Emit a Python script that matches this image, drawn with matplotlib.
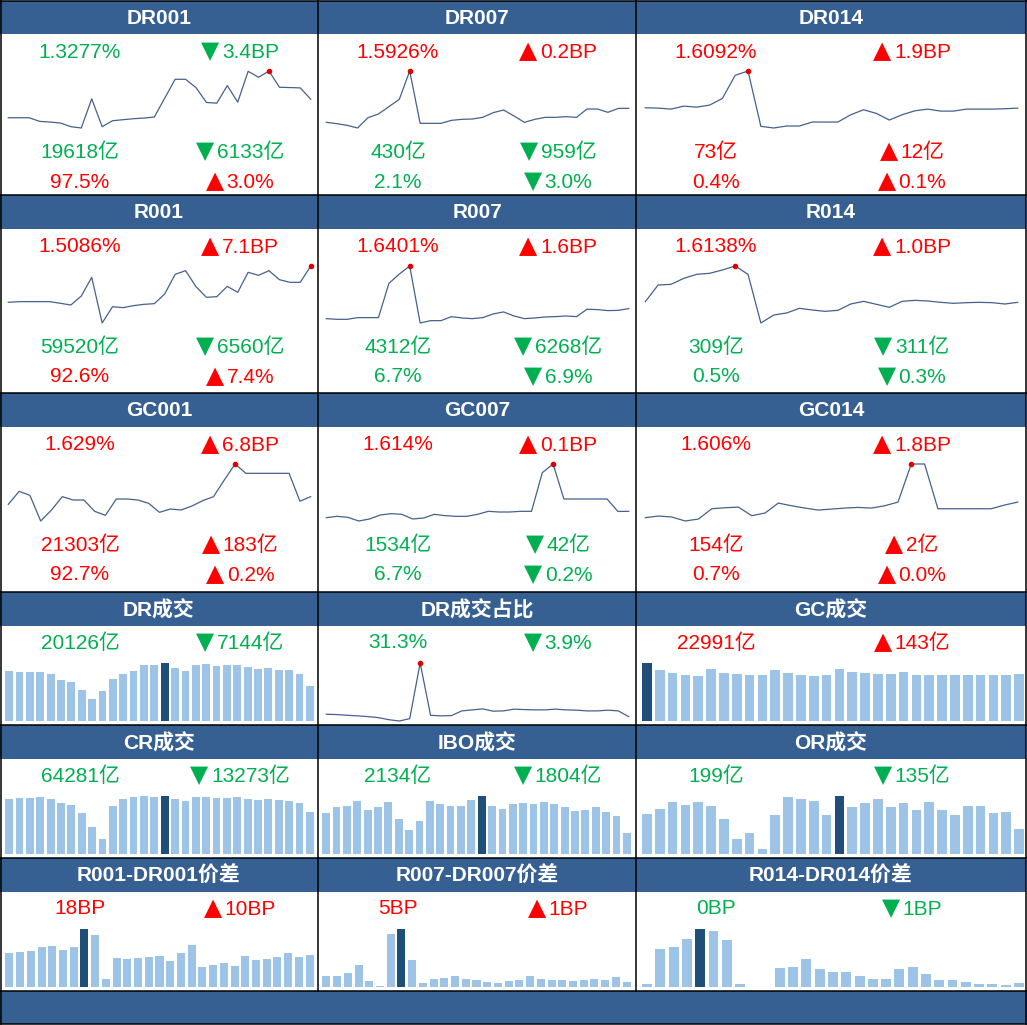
import matplotlib
matplotlib.use("Agg")
import matplotlib.pyplot as plt
from matplotlib.offsetbox import TextArea, HPacker, AnnotationBbox
import numpy as np

plt.rcParams['font.family'] = ['Liberation Sans', 'DejaVu Sans', 'Noto Sans CJK SC']

W, H = 1027, 1025
HEAD = '#376092'
GREEN = '#00B050'
RED = '#FF0000'
LINE = '#44628C'
BAR = '#9DC3E6'
BAR_DARK = '#1F4E79'

# ---- rate panels (rows 1-3) ----
names_rate = ['DR001', 'DR007', 'DR014', 'R001', 'R007', 'R014', 'GC001', 'GC007', 'GC014']
rate_txt = ['1.3277%', '1.5926%', '1.6092%', '1.5086%', '1.6401%', '1.6138%', '1.629%', '1.614%', '1.606%']
rate_chg = ['▼3.4BP', '▲0.2BP', '▲1.9BP', '▲7.1BP', '▲1.6BP', '▲1.0BP', '▲6.8BP', '▲0.1BP', '▲1.8BP']
vol_txt = ['19618亿', '430亿', '73亿', '59520亿', '4312亿', '309亿', '21303亿', '1534亿', '154亿']
vol_chg = ['▼6133亿', '▼959亿', '▲12亿', '▼6560亿', '▼6268亿', '▼311亿', '▲183亿', '▼42亿', '▲2亿']
share_txt = ['97.5%', '2.1%', '0.4%', '92.6%', '6.7%', '0.5%', '92.7%', '6.7%', '0.7%']
share_chg = ['▲3.0%', '▼3.0%', '▲0.1%', '▲7.4%', '▼6.9%', '▼0.3%', '▲0.2%', '▼0.2%', '▲0.0%']

dr001 = [1.2717, 1.2717, 1.2717, 1.2607, 1.2587, 1.2557, 1.2447, 1.2407, 1.3287, 1.2447,
         1.2627, 1.2657, 1.2687, 1.2707, 1.2737, 1.3307, 1.3877, 1.3877, 1.3627, 1.3177,
         1.3157, 1.3687, 1.3187, 1.4117, 1.3937, 1.4127, 1.3637, 1.3627, 1.3617, 1.3277]
dr007 = [1.5506, 1.5466, 1.5416, 1.5336, 1.5646, 1.5756, 1.5976, 1.6196, 1.7046, 1.5476,
         1.5476, 1.5476, 1.5566, 1.5596, 1.5606, 1.5656, 1.5796, 1.5876, 1.5696, 1.5506,
         1.5596, 1.5656, 1.5656, 1.5676, 1.5656, 1.5906, 1.5906, 1.5806, 1.5924, 1.5926]
dr014 = [1.6102, 1.6092, 1.6062, 1.6152, 1.6122, 1.6182, 1.6382, 1.7082, 1.7212, 1.5542,
         1.5492, 1.5552, 1.5552, 1.5672, 1.5672, 1.5672, 1.5892, 1.6042, 1.5932, 1.5732,
         1.5892, 1.6012, 1.6062, 1.6002, 1.6002, 1.6062, 1.6062, 1.6062, 1.6073, 1.6092]
r001 = [1.3506, 1.3535, 1.3535, 1.3535, 1.3535, 1.3462, 1.3389, 1.3781, 1.4593, 1.2606,
        1.3317, 1.3273, 1.3360, 1.3418, 1.3447, 1.3868, 1.4723, 1.4883, 1.4187, 1.3723,
        1.3752, 1.4201, 1.3940, 1.4810, 1.4680, 1.4883, 1.4491, 1.4375, 1.4375, 1.5086]
r007 = [1.5501, 1.5441, 1.5441, 1.5591, 1.5591, 1.5591, 1.8651, 1.9491, 2.0211, 1.5111,
        1.5321, 1.5321, 1.5681, 1.5561, 1.5501, 1.5591, 1.5921, 1.6101, 1.5741, 1.5501,
        1.5561, 1.5651, 1.5681, 1.5741, 1.5681, 1.6341, 1.6311, 1.6221, 1.6241, 1.6401]
r014 = [1.6178, 1.7178, 1.7218, 1.7578, 1.7818, 1.7878, 1.8078, 1.8318, 1.7818, 1.4898,
        1.5378, 1.5498, 1.5778, 1.5678, 1.5598, 1.5658, 1.6038, 1.6198, 1.6018, 1.5838,
        1.6198, 1.6258, 1.6218, 1.6138, 1.6078, 1.6118, 1.6138, 1.6118, 1.6038, 1.6138]
gc001 = [1.514, 1.709, 1.649, 1.264, 1.429, 1.629, 1.579, 1.579, 1.409, 1.349,
         1.594, 1.594, 1.579, 1.529, 1.394, 1.444, 1.429, 1.489, 1.569, 1.629,
         1.879, 2.119, 1.979, 1.979, 1.979, 1.979, 1.979, 1.561, 1.629]
gc007 = [1.557, 1.569, 1.560, 1.527, 1.545, 1.581, 1.593, 1.587, 1.545, 1.554,
         1.587, 1.575, 1.569, 1.569, 1.587, 1.614, 1.608, 1.608, 1.614, 1.614,
         1.962, 2.040, 1.725, 1.725, 1.725, 1.725, 1.725, 1.613, 1.614]
gc014 = [1.512, 1.522, 1.516, 1.492, 1.504, 1.566, 1.572, 1.576, 1.524, 1.540,
         1.600, 1.584, 1.570, 1.558, 1.564, 1.570, 1.574, 1.570, 1.584, 1.606,
         1.836, 1.836, 1.566, 1.566, 1.566, 1.566, 1.566, 1.588, 1.606]
rate_series = [dr001, dr007, dr014, r001, r007, r014, gc001, gc007, gc014]

# ---- volume / spread panels (rows 4-6) ----
names_vol = ['DR成交', 'DR成交占比', 'GC成交', 'CR成交', 'IBO成交', 'OR成交',
             'R001-DR001价差', 'R007-DR007价差', 'R014-DR014价差']
val_txt = ['20126亿', '31.3%', '22991亿', '64281亿', '2134亿', '199亿', '18BP', '5BP', '0BP']
val_chg = ['▼7144亿', '▼3.9%', '▲143亿', '▼13273亿', '▼1804亿', '▼135亿', '▲10BP', '▲1BP', '▼1BP']

dr_vol = [28757, 28178, 28178, 28178, 27020, 23546, 22388, 17756, 12545, 17177,
          24125, 27020, 28757, 32231, 32231, 33389, 30494, 28757, 32231, 32810,
          31652, 32231, 32231, 31073, 29915, 30494, 29336, 29336, 27270, 20126]
dr_share = [32.9, 32.7, 32.2, 31.8, 31.3, 30.6, 29.2, 28.3, 29.9, 67.9,
            32.2, 31.8, 32.0, 35.2, 35.9, 36.6, 35.0, 35.2, 36.4, 36.1,
            35.9, 35.9, 36.4, 35.9, 35.7, 35.2, 35.2, 35.7, 35.2, 31.3]
gc_vol = [28571, 24958, 23645, 22495, 22003, 25451, 23481, 22988, 22495, 22495,
          24958, 23481, 22495, 22003, 22495, 25451, 23973, 23481, 22988, 22988,
          23973, 22495, 22495, 22495, 22495, 22495, 22495, 22495, 22848, 22991]
cr_vol = [84296, 85838, 85838, 87380, 84296, 78128, 75044, 62708, 41120, 23644,
          73502, 84296, 87380, 88408, 87380, 88922, 84296, 81212, 87380, 87380,
          85838, 85838, 87380, 84296, 82754, 84296, 82754, 81212, 77554, 64281]
ibo_vol = [4197, 4816, 4919, 5435, 4506, 4816, 5332, 3578, 2442, 3371,
           5435, 5126, 4919, 4919, 5538, 5951, 4919, 4610, 5126, 5229,
           5126, 5332, 5126, 4816, 4403, 4506, 4816, 4300, 3938, 2134]
or_vol = [320, 360, 417, 393, 417, 385, 280, 118, 167, 38,
          312, 457, 441, 425, 312, 465, 377, 409, 441, 377,
          409, 352, 417, 352, 312, 385, 385, 328, 334, 199]
spread_001 = [20.2, 20.8, 21.4, 23.8, 24.4, 22.0, 23.8, 34.6, 31.0, 4.6,
              17.2, 16.6, 17.2, 17.8, 18.4, 15.4, 20.2, 25.0, 11.8, 13.0,
              14.2, 12.4, 18.4, 16.0, 16.6, 17.8, 20.2, 17.8, 19.0]
spread_007 = [6.4, 6.4, 8.2, 13.0, 3.4, 0.4, 31.6, 34.6, 16.0, 2.2,
              4.6, 5.2, 6.4, 4.6, 4.0, 2.8, 2.2, 3.4, 4.0, 6.4,
              4.6, 4.0, 4.0, 3.4, 4.0, 4.6, 4.0, 5.8, 2.8]
spread_014 = [0.9, 11.3, 11.9, 14.3, 17.3, 16.7, 14.0, 0.8, 0.0, 0.0,
              5.6, 5.9, 8.3, 5.3, 4.4, 4.4, 3.2, 2.3, 2.3, 5.3,
              5.9, 3.8, 2.0, 2.0, 1.4, 0.8, 0.8, 0.5, 1.1]
vol_series = [('bar', dr_vol), ('line', dr_share), ('bar', gc_vol),
              ('bar', cr_vol), ('bar', ibo_vol), ('bar', or_vol),
              ('bar', spread_001), ('bar', spread_007), ('bar', spread_014)]

# layout in pixels
col_x = [0, 318, 636]
col_w = [318, 318, 390]
rows = [(1, 34, 195), (195, 229, 393), (393, 427, 592),
        (592, 626, 725), (725, 759, 858), (858, 892, 991)]
txt_x = [(80, 240), (80, 240), (80, 276)]
line_span = [(8.3, 302.4), (8.3, 302.4), (9.3, 372.4)]
bar_span = [(4, 311), (3, 311), (4.5, 385)]
FS = 15


def box(x, y, w, h):
    return [x / W, 1 - (y + h) / H, w / W, h / H]


def col_of(txt):
    return RED if '▲' in txt else GREEN


fig = plt.figure(figsize=(W / 100, H / 100), dpi=100)
bg = fig.add_axes([0, 0, 1, 1])
bg.set_xlim(0, W)
bg.set_ylim(H, 0)
bg.axis('off')


def value_text(x, y, txt, color):
    bg.text(x, y, txt, color=color, fontsize=FS, ha='center', va='center')


def change_text(x, y, txt, color):
    # the arrow is drawn a bit larger than the number, as in the sheet
    arrow = TextArea(txt[0], textprops=dict(color=color, fontsize=FS + 2,
                                            family='DejaVu Sans'))
    num = TextArea(txt[1:], textprops=dict(color=color, fontsize=FS))
    pack = HPacker(children=[arrow, num], align='baseline', pad=0, sep=2)
    ab = AnnotationBbox(pack, (x, y - 1), frameon=False, box_alignment=(0.5, 0.5),
                        pad=0, xycoords='data')
    bg.add_artist(ab)


def spark_line(x0, top, w, h, vals):
    ax = fig.add_axes(box(x0, top, w, h))
    ax.plot(range(len(vals)), vals, color=LINE, lw=0.9, clip_on=False)
    i = int(np.argmax(vals))
    ax.plot(i, vals[i], 'o', color='#E00000', ms=3, clip_on=False, zorder=3)
    ax.set_xlim(0, len(vals) - 1)
    ax.set_ylim(min(vals), max(vals))
    ax.axis('off')


def spark_bar(x0, top, w, h, vals):
    ax = fig.add_axes(box(x0, top, w, h))
    i = int(np.argmax(vals))
    colors = [BAR_DARK if k == i else BAR for k in range(len(vals))]
    ax.bar(range(len(vals)), vals, width=0.75, color=colors)
    ax.set_xlim(-0.5, len(vals) - 0.5)
    ax.set_ylim(0, max(vals))
    ax.axis('off')


for r, (top, hb, bot) in enumerate(rows):
    for c in range(3):
        x0, w = col_x[c], col_w[c]
        k = (r % 3) * 3 + c
        bg.add_patch(plt.Rectangle((x0, top), w, hb - top, color=HEAD, lw=0))
        name = names_rate[k] if r < 3 else names_vol[k]
        bg.text(x0 + w / 2, (top + hb) / 2 + 1, name, color='white', fontsize=15,
                fontweight='bold', ha='center', va='center')
        lx, rx = txt_x[c]
        if r < 3:
            value_text(x0 + lx, hb + 18, rate_txt[k], col_of(rate_chg[k]))
            change_text(x0 + rx, hb + 18, rate_chg[k], col_of(rate_chg[k]))
            value_text(x0 + lx, hb + 118, vol_txt[k], col_of(vol_chg[k]))
            change_text(x0 + rx, hb + 118, vol_chg[k], col_of(vol_chg[k]))
            value_text(x0 + lx, hb + 148, share_txt[k], col_of(share_chg[k]))
            change_text(x0 + rx, hb + 148, share_chg[k], col_of(share_chg[k]))
            a, b = line_span[c]
            spark_line(x0 + a, hb + 37, b, 57, rate_series[k])
        else:
            value_text(x0 + lx, hb + 17, val_txt[k], col_of(val_chg[k]))
            change_text(x0 + rx, hb + 17, val_chg[k], col_of(val_chg[k]))
            kind, vals = vol_series[k]
            if kind == 'line':
                a, b = line_span[c]
                spark_line(x0 + a, hb + 37, b, 58, vals)
            else:
                a, b = bar_span[c]
                spark_bar(x0 + a, hb + 37, b, 58, vals)

# bottom bar and grid lines
bg.add_patch(plt.Rectangle((0, 991), W, 33, color=HEAD, lw=0))
for y in [1, 195, 393, 592, 725, 858, 991, 1024]:
    bg.plot([0, W], [y, y], color='black', lw=1.1)
for x in [0.5, 318, 636, 1026]:
    bg.plot([x, x], [0, 991], color='black', lw=1.1)
bg.plot([0.5, 0.5], [991, 1024], color='black', lw=1.1)
bg.plot([1026, 1026], [991, 1024], color='black', lw=1.1)

fig.savefig('out.png', dpi=100)
